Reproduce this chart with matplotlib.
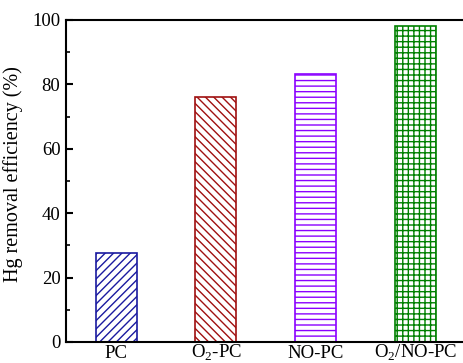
import matplotlib
matplotlib.use('Agg')
import matplotlib.pyplot as plt

# Data
samples = ['PC', 'O$_2$-PC', 'NO-PC', 'O$_2$/NO-PC']
efficiency = [27.5, 76.2, 83.2, 98.1]
colors = ['#1a1aa0', '#a01010', '#8a00ff', '#008000']
hatches = ['////', '\\\\\\\\', '---', '+++']

plt.rcParams['font.family'] = 'Liberation Serif'
plt.rcParams['mathtext.fontset'] = 'custom'
plt.rcParams['mathtext.rm'] = 'Liberation Serif'
plt.rcParams['hatch.linewidth'] = 1.0

fig = plt.figure(figsize=(4.64, 3.63), dpi=100)
ax = fig.add_axes([66 / 464, 21 / 363, 398 / 464, 322 / 363])

x = range(1, len(samples) + 1)
for xi, val, c, h in zip(x, efficiency, colors, hatches):
    ax.bar(xi, val, width=0.41, facecolor='white', edgecolor=c, hatch=h, linewidth=1.2)

ax.set_xlim(0.5, 4.48)
ax.set_ylim(0, 100)
ax.set_xticks(list(x))
ax.set_xticklabels(samples, fontsize=13.5)
for lab in ax.get_xticklabels():
    lab.set_verticalalignment('baseline')
ax.set_yticks(range(0, 101, 20))
ax.set_yticks(range(10, 100, 20), minor=True)
ax.tick_params(axis='y', which='major', direction='in', length=5, width=1.5, labelsize=13.5, pad=4)
ax.tick_params(axis='y', which='minor', direction='in', length=3, width=1.2)
ax.tick_params(axis='x', length=0, pad=11.3)
ax.set_ylabel('Hg removal efficiency (%)', fontsize=14.5)
ax.yaxis.set_label_coords(-0.108, 0.52)

ax.spines['right'].set_visible(False)
for s in ['left', 'bottom', 'top']:
    ax.spines[s].set_linewidth(1.5)

fig.savefig('out.png', dpi=100)
